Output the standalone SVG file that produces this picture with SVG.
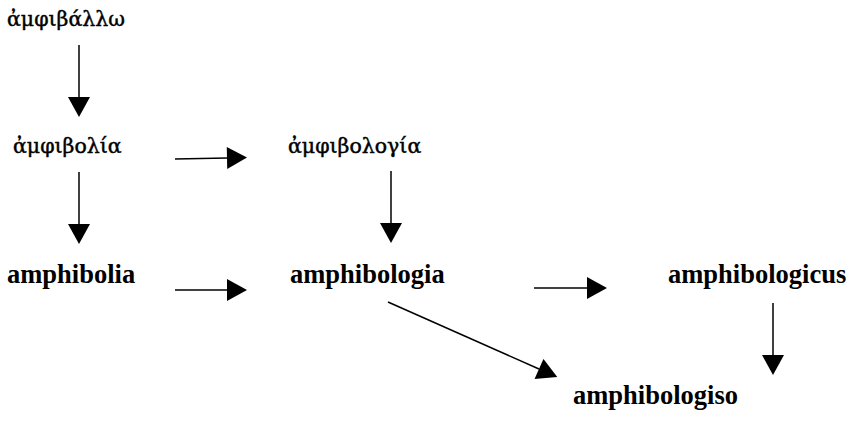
<svg xmlns="http://www.w3.org/2000/svg" width="850" height="422" viewBox="0 0 850 422">
<style>
.gr{font-family:"DejaVu Serif","Liberation Serif",serif;font-size:20.5px;fill:#000;stroke:#000;stroke-width:0.45}
.la{font-family:"Liberation Serif","DejaVu Serif",serif;font-size:26.5px;font-weight:bold;fill:#000}
.c line{stroke:#000;stroke-width:1.5;marker-end:url(#ah)}
</style>
<defs>
<marker id="ah" markerUnits="userSpaceOnUse" markerWidth="22" markerHeight="22" viewBox="0 0 20 22" refX="0" refY="11" orient="auto">
<polygon points="0,0 20,11 0,22" fill="#000"/>
</marker>
</defs>
<rect width="850" height="422" fill="#fff"/>
<g id="n1"><text class="gr" x="7" y="26">ἀμφιβάλλω</text></g>
<g id="n2"><text class="gr" x="13" y="153">ἀμφιβολία</text></g>
<g id="n3"><text class="gr" x="288" y="153">ἀμφιβολογία</text></g>
<g id="n4"><text class="la" x="7" y="283">amphibolia</text></g>
<g id="n5"><text class="la" x="290" y="283">amphibologia</text></g>
<g id="n6"><text class="la" x="668" y="283">amphibologicus</text></g>
<g id="n7"><text class="la" x="573" y="404">amphibologiso</text></g>
<g id="connectors" class="c">
<line x1="79" y1="45" x2="79" y2="97"/>
<line x1="175" y1="159" x2="227" y2="158"/>
<line x1="79" y1="172" x2="79" y2="224"/>
<line x1="391" y1="171" x2="391" y2="223"/>
<line x1="175" y1="290" x2="227" y2="290"/>
<line x1="534" y1="288" x2="587" y2="288"/>
<line x1="773" y1="303" x2="773" y2="355"/>
<line x1="388" y1="302" x2="539" y2="369"/>
</g>
</svg>
